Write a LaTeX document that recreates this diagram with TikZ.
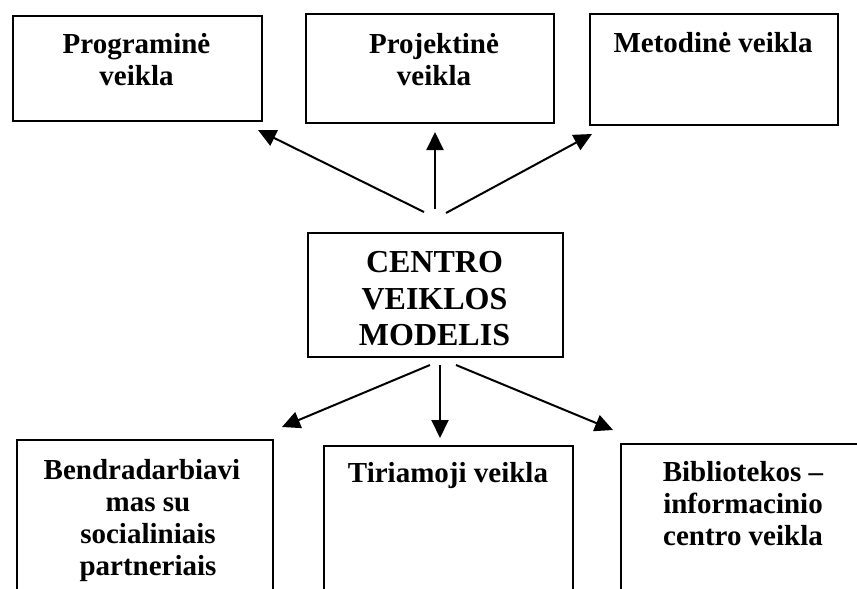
\documentclass[tikz,border=0pt]{standalone}
\usepackage{fontspec}
\setmainfont{Liberation Serif}
\usetikzlibrary{arrows.meta}
\begin{document}
\begin{tikzpicture}[x=1pt,y=-1pt,
  box/.style={draw,line width=1.5pt,inner sep=0pt,anchor=north west},
  lbl/.style={inner sep=0pt,anchor=north,align=center,font=\bfseries\fontsize{29}{32}\selectfont},
  big/.style={inner sep=0pt,anchor=north,align=center,font=\bfseries\fontsize{32}{36.7}\selectfont},
  arr/.style={line width=2pt,-{Triangle[length=18pt,width=17pt]}}]
\clip (0,0) rectangle (857,589);
\useasboundingbox (0,0) rectangle (857,589);
% top boxes
\node[box,minimum width=249pt,minimum height=105pt] (b1) at (12,15) {};
\node[box,minimum width=248pt,minimum height=109pt] (b2) at (305,13) {};
\node[box,minimum width=248pt,minimum height=111pt] (b3) at (589,13) {};
\node[lbl] (t1) at (136.5,33) {Programinė\\veikla};
\node[lbl] (t2) at (434,33) {Projektinė\\veikla};
\node[lbl] (t3) at (713,32) {Metodinė veikla};
% centre
\node[box,line width=2pt,minimum width=255pt,minimum height=124pt] (c) at (307,232) {};
\node[big] (ct) at (434.5,251) {CENTRO\\VEIKLOS\\MODELIS};
% bottom boxes
\node[box,minimum width=256pt,minimum height=200pt] (d1) at (16,439) {};
\node[box,minimum width=249pt,minimum height=200pt] (d2) at (323,445) {};
\node[box,minimum width=246pt,minimum height=200pt] (d3) at (620,443) {};
\node[lbl] (u1) at (148,459) {Bendradarbiavi\rule{12pt}{0pt}\\mas su\\socialiniais\\partneriais};
\node[lbl] (u2) at (448,462) {Tiriamoji veikla};
\node[lbl] (u3) at (743,461) {Bibliotekos –\\informacinio\\centro veikla};
% arrow ends
\coordinate (s1) at (424,212); \coordinate (e1) at (258,130);
\coordinate (s2) at (435,209); \coordinate (e2) at (435,132);
\coordinate (s3) at (446,213); \coordinate (e3) at (592,134);
\coordinate (s4) at (430,365); \coordinate (e4) at (282,427);
\coordinate (s5) at (440,365); \coordinate (e5) at (440,438);
\coordinate (s6) at (456,365); \coordinate (e6) at (613,430);
\draw[arr] (s1) -- (e1);
\draw[arr] (s2) -- (e2);
\draw[arr] (s3) -- (e3);
\draw[arr] (s4) -- (e4);
\draw[arr] (s5) -- (e5);
\draw[arr] (s6) -- (e6);
\end{tikzpicture}
\end{document}
